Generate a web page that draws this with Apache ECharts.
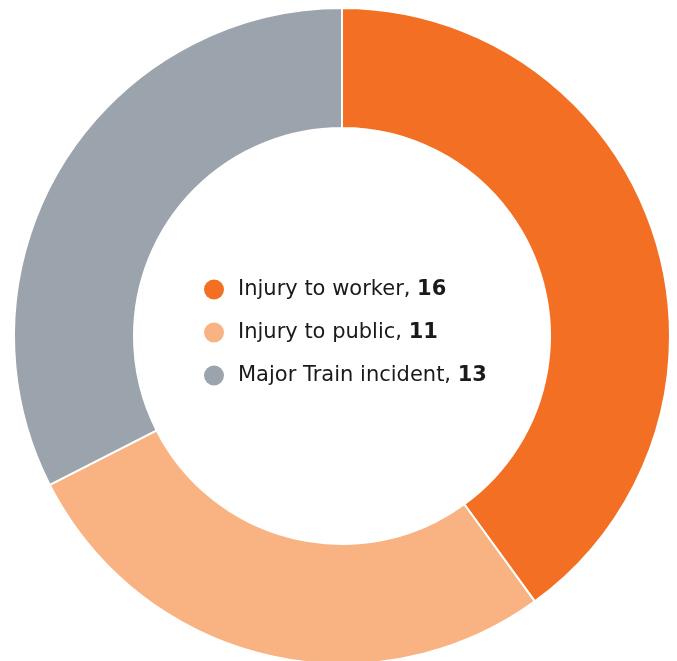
<!DOCTYPE html>
<html>
<head>
<meta charset="utf-8">
<style>
  html, body { margin: 0; padding: 0; background: #ffffff; }
  #chart { width: 677px; height: 661px; }
</style>
<script src="https://cdn.jsdelivr.net/npm/echarts@6/dist/echarts.min.js"></script>
</head>
<body>
<div id="chart"></div>
<script>
// Incident categories and their counts
const categories = ['Injury to worker', 'Injury to public', 'Major Train incident'];
const counts = [16, 11, 13];
const colors = ['#F36F23', '#F9B282', '#9BA3AC'];

const chart = echarts.init(document.getElementById('chart'));

const pieData = categories.map((name, i) => ({
  name: name,
  value: counts[i],
  itemStyle: { color: colors[i] }
}));

chart.setOption({
  animation: false,
  legend: {
    orient: 'vertical',
    left: 204,
    top: 277.5,
    padding: 0,
    icon: 'circle',
    itemWidth: 20,
    itemHeight: 24,
    symbolKeepAspect: true,
    itemGap: 19,
    selectedMode: false,
    itemStyle: { borderWidth: 0 },
    formatter: function (name) {
      const i = categories.indexOf(name);
      return '{n|' + name + ', }{v|' + counts[i] + '}';
    },
    textStyle: {
      padding: [0, 0, 0, 9],
      lineHeight: 24,
      rich: {
        n: { fontFamily: 'DejaVu Sans', fontSize: 21, lineHeight: 24, color: '#1a1a1a' },
        v: { fontFamily: 'DejaVu Sans', fontSize: 21, lineHeight: 24, fontWeight: 'bold', color: '#1a1a1a' }
      }
    }
  },
  series: [{
    type: 'pie',
    center: [342, 336],
    radius: [208, 328],
    startAngle: 90,
    clockwise: true,
    label: { show: false },
    labelLine: { show: false },
    emphasis: { disabled: true },
    itemStyle: { borderColor: '#ffffff', borderWidth: 2 },
    data: pieData
  }]
});
</script>
</body>
</html>
